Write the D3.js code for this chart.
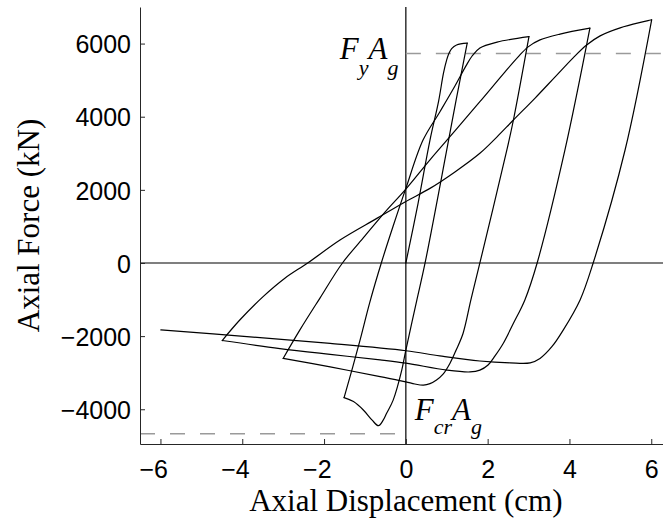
<!DOCTYPE html>
<html>
<head>
<meta charset="utf-8">
<script src="https://cdnjs.cloudflare.com/ajax/libs/d3/7.8.5/d3.min.js"></script>
<style>
	body { margin: 0; background: #fff; }
	svg { display: block; }
	.axis text { font-family: 'Liberation Sans', Arial, Helvetica, sans-serif; font-size: 25px; fill: #000; }
	.axis-title { font-family: 'Liberation Serif', 'Times New Roman', serif; font-size: 31px; fill: #000; }
	.ref-label { font-family: 'Liberation Serif', 'Times New Roman', serif; font-style: italic; fill: #000; }
</style>
</head>
<body>
<svg id="chart" width="663" height="519"></svg>
<script>
const xTicks = [-6, -4, -2, 0, 2, 4, 6];
const yTicks = [-4000, -2000, 0, 2000, 4000, 6000];

// reference force levels (kN)
const fyAg = 5730;
const fcrAg = -4670;

// hysteresis branches, [axial displacement (cm), axial force (kN)]
const load1 = [[0, 0], [0.30, 1640], [0.59, 3360], [0.80, 4420], [0.92, 5190], [1.00, 5560], [1.05, 5720], [1.12, 5860], [1.24, 5960], [1.50, 6010]];
const comp1 = [[1.50, 6010], [1.23, 4460], [1.00, 3090], [0.47, 0], [0.27, -1010], [0.00, -2380], [-0.10, -2930], [-0.31, -3750], [-0.47, -4110], [-0.55, -4290], [-0.67, -4450], [-0.83, -4290], [-1.04, -4020], [-1.28, -3790], [-1.51, -3680]];
const tens2 = [[-1.51, -3680], [-1.32, -2930], [-1.12, -2110], [-0.88, -1070], [-0.60, 0], [-0.31, 1010], [0.00, 2040], [0.42, 3360], [0.83, 4130], [1.20, 4840], [1.47, 5390], [1.62, 5660], [1.81, 5880], [2.23, 6040], [3.01, 6190]];
const comp2 = [[3.01, 6190], [2.63, 3910], [2.47, 3090], [1.81, 0], [1.59, -1010], [1.40, -1920], [1.23, -2380], [1.08, -2740], [0.91, -3040], [0.75, -3200], [0.59, -3300], [0.43, -3340], [0.22, -3310], [0.00, -3250], [-0.63, -3110], [-1.85, -2840], [-3.00, -2610]];
const tens3 = [[-3.00, -2610], [-2.59, -1830], [-2.10, -960], [-1.55, 0], [-1.00, 740], [-0.51, 1390], [0.00, 2020], [0.59, 2820], [1.20, 3610], [1.81, 4410], [2.42, 5220], [2.74, 5630], [2.99, 5910], [3.28, 6100], [3.77, 6260], [4.50, 6420]];
const comp3 = [[4.50, 6420], [3.89, 3090], [3.21, 0], [2.91, -1010], [2.63, -1650], [2.38, -2200], [2.18, -2540], [2.01, -2790], [1.81, -2930], [1.57, -2980], [1.00, -2930], [0.00, -2740], [-0.63, -2650], [-1.85, -2500], [-3.08, -2340], [-4.49, -2120]];
const tens4 = [[-4.49, -2120], [-4.06, -1560], [-3.49, -920], [-2.95, -410], [-2.40, 0], [-1.61, 630], [-0.71, 1220], [-0.02, 1670], [0.59, 2040], [1.20, 2490], [1.81, 3000], [2.23, 3450], [2.63, 3910], [3.16, 4510], [3.65, 5090], [4.09, 5610], [4.42, 5960], [4.75, 6210], [5.24, 6430], [6.01, 6650]];
const comp4 = [[6.01, 6650], [5.36, 3090], [4.58, 0], [4.26, -1010], [3.85, -1830], [3.57, -2290], [3.28, -2610], [3.04, -2730], [2.55, -2730], [1.81, -2680], [0.83, -2540], [0.00, -2400], [-1.85, -2200], [-3.81, -2020], [-5.99, -1830]];

const branches = [load1, comp1, tens2, comp2, tens3, comp3, tens4, comp4];

const width = 663;
const svg = d3.select('#chart');

const x = d3.scaleLinear().domain([-6.5, 6.5]).range([140, 671.7]);
const y = d3.scaleLinear().domain([-4950, 7000]).range([444, 7]);

const fmt = d => d < 0 ? '\u2212' + Math.abs(d) : String(d);

// zero lines
svg.append('line')
	.attr('x1', x(-6.5)).attr('x2', width)
	.attr('y1', y(0)).attr('y2', y(0))
	.attr('stroke', '#000').attr('stroke-width', 1.2);
svg.append('line')
	.attr('x1', x(0)).attr('x2', x(0))
	.attr('y1', y(7000)).attr('y2', y(-4950))
	.attr('stroke', '#000').attr('stroke-width', 1.2);

// dashed reference levels
dashed(x(0), width, fyAg);
dashed(x(-6.5), x(0), fcrAg);

function dashed(xa, xb, level) {
	svg.append('line')
		.attr('x1', xa).attr('x2', xb)
		.attr('y1', y(level)).attr('y2', y(level))
		.attr('stroke', '#9a9a9a')
		.attr('stroke-width', 1.5)
		.attr('stroke-dasharray', '15,15');
}

// hysteresis curve, one path per branch so the peaks stay sharp
const line = d3.line()
	.x(d => x(d[0]))
	.y(d => y(d[1]))
	.curve(d3.curveCatmullRom.alpha(0.5));

svg.append('g')
	.selectAll('path')
	.data(branches)
	.enter()
	.append('path')
	.attr('d', line)
	.attr('fill', 'none')
	.attr('stroke', '#000')
	.attr('stroke-width', 1.2)
	.attr('stroke-linejoin', 'round')
	.attr('stroke-linecap', 'round');

// axes
svg.append('g')
	.attr('class', 'axis')
	.attr('transform', `translate(${x(-6.5)},0)`)
	.attr('color', '#262626')
	.call(d3.axisLeft(y).tickValues(yTicks).tickSizeInner(-5).tickSizeOuter(0).tickPadding(9).tickFormat(fmt))
	.call(g => g.selectAll('text').attr('dy', '0.37em'));

svg.append('g')
	.attr('class', 'axis')
	.attr('transform', `translate(0,${y(-4950)})`)
	.attr('color', '#262626')
	.call(d3.axisBottom(x).tickValues(xTicks).tickSizeInner(-5).tickSizeOuter(0).tickPadding(16).tickFormat(fmt))
	.call(g => g.selectAll('text').attr('text-anchor', 'end').attr('x', 7));

// axis titles
svg.append('text')
	.attr('class', 'axis-title')
	.attr('x', x(0))
	.attr('y', 511)
	.attr('text-anchor', 'middle')
	.text('Axial Displacement (cm)');

svg.append('text')
	.attr('class', 'axis-title')
	.attr('transform', `translate(38.5,${(y(7000) + y(-4950)) / 2}) rotate(-90)`)
	.attr('text-anchor', 'middle')
	.text('Axial Force (kN)');

// F_y A_g and F_cr A_g labels
refLabel(x(0) - 66, y(fyAg) + 5.5, 'y', 16);
refLabel(x(0) + 9, y(fcrAg) - 14, 'cr', 14);

function refLabel(px, py, sub, shift) {
	let t = svg.append('text')
		.attr('class', 'ref-label')
		.attr('x', px)
		.attr('y', py);
	t.append('tspan').attr('font-size', 31).text('F');
	t.append('tspan').attr('font-size', 22).attr('dy', shift).text(sub);
	t.append('tspan').attr('font-size', 31).attr('dy', -shift).text('A');
	t.append('tspan').attr('font-size', 22).attr('dy', shift).text('g');
}
</script>
</body>
</html>
